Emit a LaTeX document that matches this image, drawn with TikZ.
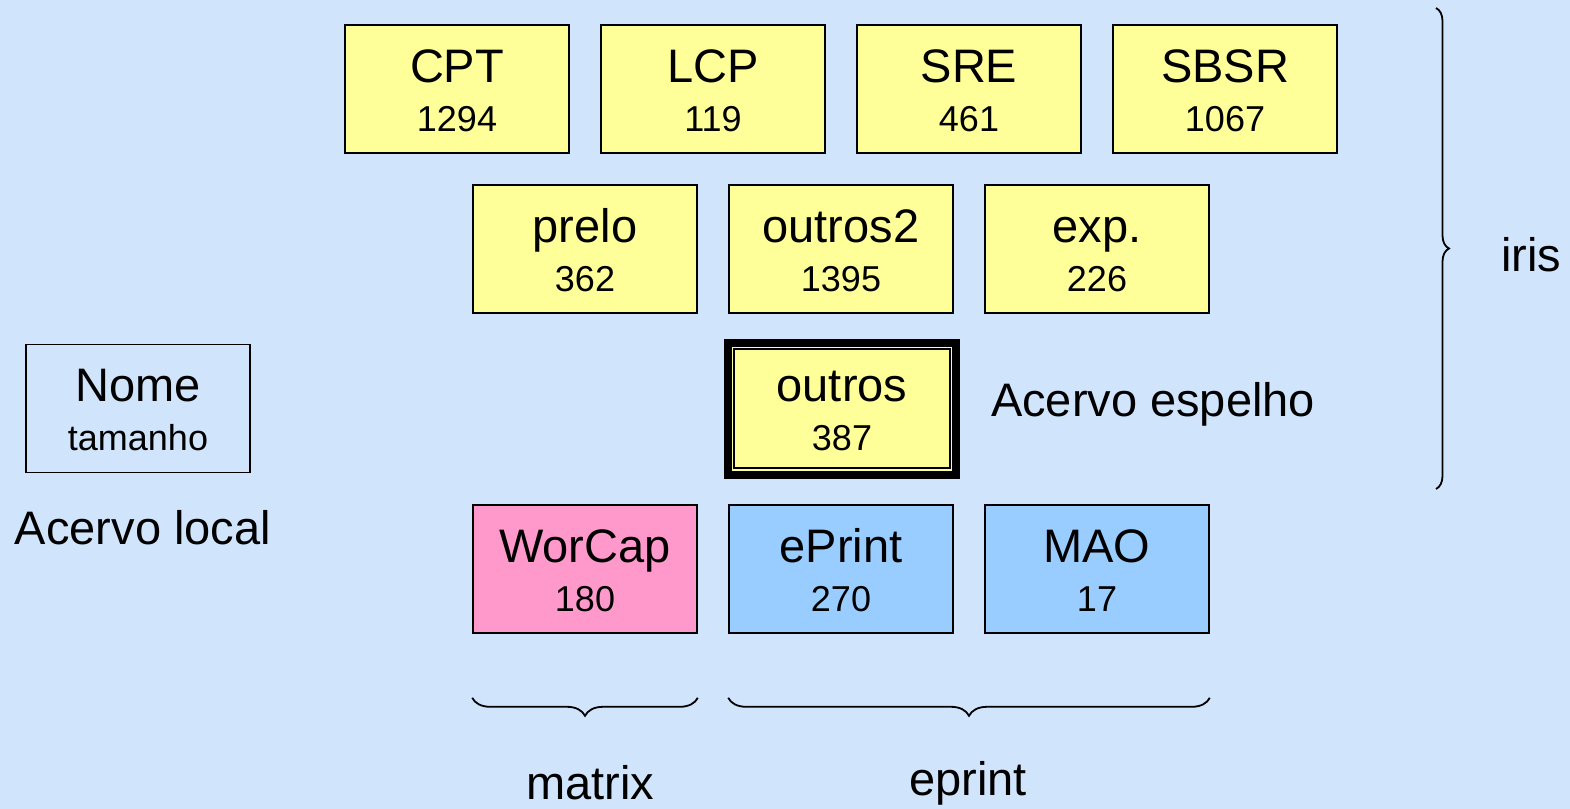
\documentclass[tikz,border=0pt]{standalone}
\usepackage{fontspec}
\setmainfont{Liberation Sans}
\usetikzlibrary{decorations.pathreplacing}
\definecolor{bgblue}{RGB}{208,228,252}
\definecolor{boxyellow}{RGB}{255,255,153}
\definecolor{boxpink}{RGB}{255,153,204}
\definecolor{boxblue}{RGB}{153,204,255}
\newcommand{\cell}[2]{{\fontsize{23.5}{24.5}\selectfont\rule{0pt}{18pt}#1}\\#2}
\tikzset{
  acervo/.style={draw,line width=0.8pt,minimum width=112pt,minimum height=64pt,align=center,
    font=\fontsize{18}{24.5}\selectfont,inner sep=0pt},
  big/.style={font=\fontsize{23.5}{26}\selectfont},
  chave/.style={decorate,decoration={brace,amplitude=#1},line width=0.9pt}
}

\begin{document}
\begin{tikzpicture}[x=0.5pt,y=-0.5pt]
			\fill[bgblue] (0,0) rectangle (1570,809);
			\useasboundingbox (0,0) rectangle (1570,809);
			% iris
			\node[acervo,fill=boxyellow] (cpt) at (457,89) {\cell{CPT}{1294}};
			\node[acervo,fill=boxyellow] (lcp) at (713,89) {\cell{LCP}{119}};
			\node[acervo,fill=boxyellow] (sre) at (969,89) {\cell{SRE}{461}};
			\node[acervo,fill=boxyellow] (sbsr) at (1225,89) {\cell{SBSR}{1067}};
			\node[acervo,fill=boxyellow] (prelo) at (585,249) {\cell{prelo}{362}};
			\node[acervo,fill=boxyellow] (outros2) at (841,249) {\cell{outros2}{1395}};
			\node[acervo,fill=boxyellow] (exp) at (1097,249) {\cell{exp.}{226}};
			% espelho
			\draw[line width=4pt,fill=boxyellow] (728,343) rectangle (956,475);
			\node[acervo,fill=boxyellow,minimum width=108pt,minimum height=59.5pt] (outros) at (842,408.5) {\cell{outros}{387}};
			% locais
			\node[acervo,fill=boxpink] (worcap) at (585,569) {\cell{WorCap}{180}};
			\node[acervo,fill=boxblue] (eprint) at (841,569) {\cell{ePrint}{270}};
			\node[acervo,fill=boxblue] (mao) at (1097,569) {\cell{MAO}{17}};
			% legenda
			\node[acervo] (nome) at (138,408.5) {\cell{Nome}{tamanho}};
			\node[big] (local) at (143,528) {Acervo local};
			\node[big,anchor=west] (espelho) at (984,404) {Acervo espelho};
			% chaves
			\draw[chave=6.5pt] (1436,8) -- (1436,489);
			\node[big,anchor=west] (iris) at (1494,255) {iris};
			\draw[chave=9pt] ([yshift=-32pt]worcap.south east) -- ([yshift=-32pt]worcap.south west);
			\draw[chave=9pt] ([yshift=-32pt]mao.south east) -- ([yshift=-32pt]eprint.south west);
			\node[big] (matrix) at (590,783) {matrix};
			\node[big] (eprintrep) at (968,783) {eprint};
		\end{tikzpicture}
\end{document}
